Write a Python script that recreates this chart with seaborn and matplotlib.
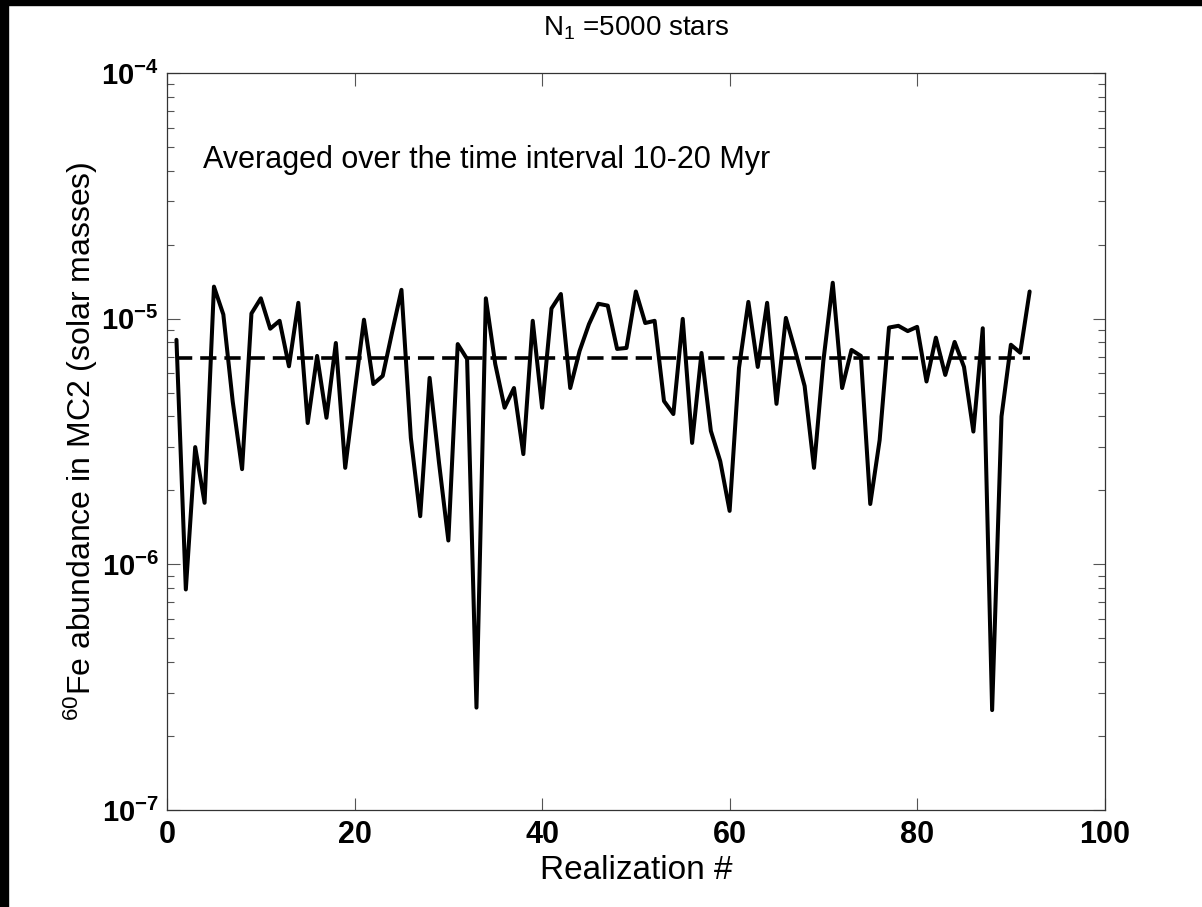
import numpy as np
import pandas as pd
import matplotlib
matplotlib.use('Agg')
import matplotlib.pyplot as plt
import seaborn as sns
from matplotlib.ticker import FixedLocator, FuncFormatter, LogLocator, NullFormatter
from matplotlib.patches import Rectangle

# 数据：每次实现的 60Fe 丰度（太阳质量）
realization = np.arange(1, 93)
abundance = [
    8.2e-6, 7.9e-7, 3.0e-6, 1.78e-6, 1.35e-5, 1.04e-5, 4.6e-6, 2.44e-6, 1.05e-5, 1.21e-5,
    9.1e-6, 9.8e-6, 6.4e-6, 1.16e-5, 3.76e-6, 7.05e-6, 3.95e-6, 7.96e-6, 2.47e-6, 5.0e-6,
    9.9e-6, 5.42e-6, 5.85e-6, 8.8e-6, 1.31e-5, 3.27e-6, 1.57e-6, 5.74e-6, 2.6e-6, 1.25e-6,
    7.88e-6, 6.85e-6, 2.61e-7, 1.21e-5, 6.54e-6, 4.34e-6, 5.22e-6, 2.81e-6, 9.8e-6, 4.34e-6,
    1.1e-5, 1.26e-5, 5.22e-6, 7.39e-6, 9.5e-6, 1.15e-5, 1.13e-5, 7.53e-6, 7.6e-6, 1.29e-5,
    9.6e-6, 9.8e-6, 4.62e-6, 4.09e-6, 9.98e-6, 3.12e-6, 7.25e-6, 3.49e-6, 2.63e-6, 1.65e-6,
    6.3e-6, 1.17e-5, 6.36e-6, 1.16e-5, 4.5e-6, 1.007e-5, 7.39e-6, 5.32e-6, 2.47e-6, 6.73e-6,
    1.4e-5, 5.22e-6, 7.46e-6, 7.05e-6, 1.76e-6, 3.2e-6, 9.2e-6, 9.35e-6, 8.9e-6, 9.26e-6,
    5.55e-6, 8.37e-6, 5.9e-6, 8.04e-6, 6.36e-6, 3.47e-6, 9.14e-6, 2.55e-7, 4.0e-6, 7.83e-6,
    7.27e-6, 1.29e-5,
]
mean_abundance = 6.9e-6
x_ticks = [0, 20, 40, 60, 80, 100]
y_exponents = [-7, -6, -5, -4]

df = pd.DataFrame({'realization': realization, 'abundance': abundance})
df['mean'] = mean_abundance

sns.set_style('ticks')
plt.rcParams['font.family'] = ['Liberation Sans', 'DejaVu Sans']
plt.rcParams['mathtext.fontset'] = 'custom'
plt.rcParams['mathtext.rm'] = 'Liberation Sans'
plt.rcParams['mathtext.it'] = 'Liberation Sans:italic'
plt.rcParams['mathtext.bf'] = 'Liberation Sans:bold'
plt.rcParams['text.color'] = 'black'
plt.rcParams['axes.labelcolor'] = 'black'
plt.rcParams['xtick.labelcolor'] = 'black'
plt.rcParams['ytick.labelcolor'] = 'black'

fig = plt.figure(figsize=(12.02, 9.07), dpi=100, facecolor='white')
ax = fig.add_axes([0.139, 0.107, 0.780, 0.8125])

sns.lineplot(data=df, x='realization', y='abundance', color='black', lw=2.9, ax=ax)
sns.lineplot(data=df, x='realization', y='mean', color='black', lw=2.6,
             linestyle=(0, (4.5, 2.2)), ax=ax)

ax.set_yscale('log')
ax.set_xlim(x_ticks[0], x_ticks[-1])
ax.set_ylim(10.0 ** y_exponents[0], 10.0 ** y_exponents[-1])

ax.xaxis.set_major_locator(FixedLocator(x_ticks))
ax.yaxis.set_major_locator(FixedLocator([10.0 ** e for e in y_exponents]))
ax.yaxis.set_minor_locator(LogLocator(base=10, subs=np.arange(2, 10)))
ax.yaxis.set_minor_formatter(NullFormatter())
ax.yaxis.set_major_formatter(FuncFormatter(
    lambda v, p: r'$\mathbf{10^{%d}}$' % int(round(np.log10(v)))))

ax.tick_params(which='both', direction='in', top=True, right=True, color='#555555')
ax.tick_params(which='major', length=9, width=0.8)
ax.tick_params(which='minor', length=5, width=0.8)
ax.tick_params(axis='x', labelsize=22, pad=7)
ax.tick_params(axis='y', labelsize=21, pad=6)
for lab in ax.get_xticklabels():
    lab.set_fontweight('bold')
for s in ax.spines.values():
    s.set_linewidth(0.9)
    s.set_color('#333333')

ax.set_xlabel('Realization #', fontsize=24, labelpad=4)
ax.set_ylabel(r'$^{60}$Fe abundance in MC2 (solar masses)', fontsize=23, labelpad=1)
ax.set_title(r'N$_{1}$ =5000 stars', fontsize=20, pad=27)

ax.text(0.038, 0.882, 'Averaged over the time interval 10-20 Myr',
        transform=ax.transAxes, fontsize=22, va='center', ha='left')

# 左侧和顶部的黑边
fig.patches.append(Rectangle((0, 0), 8 / 1202, 1, transform=fig.transFigure,
                             color='black', zorder=10))
fig.patches.append(Rectangle((0, 1 - 5 / 907), 1, 5 / 907, transform=fig.transFigure,
                             color='black', zorder=10))

fig.savefig('out.png', dpi=100, facecolor='white')
